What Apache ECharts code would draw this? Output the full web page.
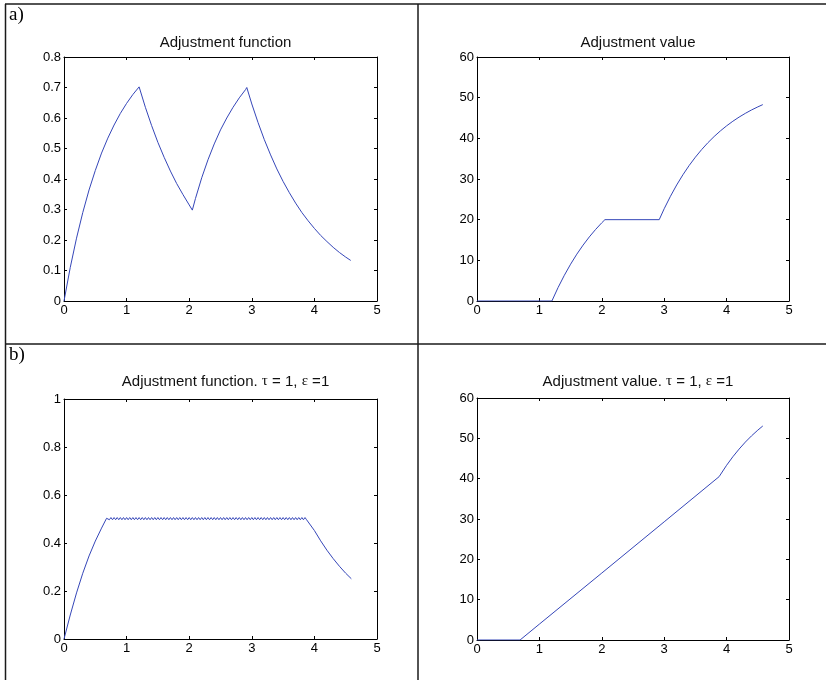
<!DOCTYPE html>
<html>
<head>
<meta charset="utf-8">
<title>Adjustment function and value</title>
<script src="https://cdn.jsdelivr.net/npm/echarts@6/dist/echarts.min.js"></script>
<style>
  html, body { margin: 0; padding: 0; background: #fff; }
  #chart { width: 826px; height: 680px; }
</style>
</head>
<body>
<div id="chart"></div>
<script>
// ---- a) adjustment function (time, value) ----
var aFuncX = [0, 0.1, 0.2, 0.3, 0.4, 0.5, 0.6, 0.7, 0.8, 0.9, 1.0, 1.1, 1.2,
  1.3, 1.4, 1.5, 1.6, 1.7, 1.8, 1.9, 2.0, 2.05,
  2.1, 2.2, 2.3, 2.4, 2.5, 2.6, 2.7, 2.8, 2.9, 2.92,
  3.0, 3.1, 3.2, 3.3, 3.4, 3.5, 3.6, 3.7, 3.8, 3.9, 4.0, 4.1, 4.2, 4.3, 4.4, 4.5, 4.58];
var aFuncY = [0, 0.110, 0.206, 0.290, 0.364, 0.428, 0.485, 0.534, 0.577, 0.615, 0.648, 0.677, 0.702,
  0.635, 0.575, 0.520, 0.471, 0.426, 0.385, 0.349, 0.315, 0.298,
  0.336, 0.404, 0.463, 0.515, 0.561, 0.600, 0.635, 0.666, 0.693, 0.700,
  0.646, 0.585, 0.529, 0.479, 0.433, 0.392, 0.355, 0.321, 0.290, 0.263, 0.238, 0.215, 0.195, 0.176, 0.159, 0.144, 0.133];

// ---- a) adjustment value ----
var aValX = [0, 1.2, 1.3, 1.4, 1.5, 1.6, 1.7, 1.8, 1.9, 2.0, 2.05, 2.92,
  3.0, 3.1, 3.2, 3.3, 3.4, 3.5, 3.6, 3.7, 3.8, 3.9, 4.0, 4.1, 4.2, 4.3, 4.4, 4.5, 4.58];
var aValY = [0, 0, 3.33, 6.33, 9.05, 11.52, 13.74, 15.76, 17.58, 19.24, 20.0, 20.0,
  22.69, 25.75, 28.53, 31.04, 33.32, 35.37, 37.23, 38.92, 40.44, 41.82, 43.07, 44.20, 45.22, 46.14, 46.98, 47.73, 48.29];

// ---- b) adjustment function, tau = 1, eps = 1 ----
var bRiseX = [0, 0.1, 0.2, 0.3, 0.4, 0.5, 0.6, 0.68];
var bRiseY = [0, 0.100, 0.192, 0.274, 0.346, 0.408, 0.462, 0.503];
// saturated stretch, sampled every 0.025 s from t = 0.70 to t = 3.90
var bHoldStart = 0.70;
var bHoldStep = 0.025;
var bHoldY = [
  0.503, 0.497, 0.506, 0.497, 0.506, 0.497, 0.506, 0.497, 0.506, 0.497, 0.506, 0.497, 0.506, 0.497, 0.506, 0.497,
  0.506, 0.497, 0.506, 0.497, 0.506, 0.497, 0.506, 0.497, 0.506, 0.497, 0.506, 0.497, 0.506, 0.497, 0.506, 0.497,
  0.506, 0.497, 0.506, 0.497, 0.506, 0.497, 0.506, 0.497, 0.506, 0.497, 0.506, 0.497, 0.506, 0.497, 0.506, 0.497,
  0.506, 0.497, 0.506, 0.497, 0.506, 0.497, 0.506, 0.497, 0.506, 0.497, 0.506, 0.497, 0.506, 0.497, 0.506, 0.497,
  0.506, 0.497, 0.506, 0.497, 0.506, 0.497, 0.506, 0.497, 0.506, 0.497, 0.506, 0.497, 0.506, 0.497, 0.506, 0.497,
  0.506, 0.497, 0.506, 0.497, 0.506, 0.497, 0.506, 0.497, 0.506, 0.497, 0.506, 0.497, 0.506, 0.497, 0.506, 0.497,
  0.506, 0.497, 0.506, 0.497, 0.506, 0.497, 0.506, 0.497, 0.506, 0.497, 0.506, 0.497, 0.506, 0.497, 0.506, 0.497,
  0.506, 0.497, 0.506, 0.497, 0.506, 0.497, 0.506, 0.497, 0.506, 0.497, 0.506, 0.497, 0.506, 0.497, 0.506, 0.497,
  0.500];
var bFallX = [4.0, 4.1, 4.2, 4.3, 4.4, 4.5, 4.59];
var bFallY = [0.452, 0.409, 0.370, 0.335, 0.303, 0.274, 0.251];

// ---- b) adjustment value, tau = 1, eps = 1 ----
var bValX = [0, 0.69, 1.0, 2.0, 3.0, 3.88, 3.9, 4.0, 4.1, 4.2, 4.3, 4.4, 4.5, 4.58];
var bValY = [0, 0, 3.94, 16.6, 29.3, 40.5, 40.99, 43.32, 45.43, 47.33, 49.06, 50.62, 52.03, 53.06];

// axis ranges and titles
var xTicks = { min: 0, max: 5, interval: 1 };
var yRanges = [
  { min: 0, max: 0.8, interval: 0.1 },
  { min: 0, max: 60, interval: 10 },
  { min: 0, max: 1, interval: 0.2 },
  { min: 0, max: 60, interval: 10 }
];
var panelTitles = [
  'Adjustment function',
  'Adjustment value',
  'Adjustment function. {g|\u03c4} = 1, {g|\u03b5} =1',
  'Adjustment value. {g|\u03c4} = 1, {g|\u03b5} =1'
];
var panelLabels = ['a)', 'b)'];

function pairs(xs, ys) {
  var out = [];
  for (var i = 0; i < xs.length; i++) out.push([xs[i], ys[i]]);
  return out;
}

var bFuncData = pairs(bRiseX, bRiseY);
for (var k = 0; k < bHoldY.length; k++) {
  bFuncData.push([+(bHoldStart + k * bHoldStep).toFixed(3), bHoldY[k]]);
}
bFuncData = bFuncData.concat(pairs(bFallX, bFallY));

var seriesData = [
  pairs(aFuncX, aFuncY),
  pairs(aValX, aValY),
  bFuncData,
  pairs(bValX, bValY)
];

var FONT = 'Arial, "Liberation Sans", Helvetica, sans-serif';
var SERIF = '"Times New Roman", "Liberation Serif", "DejaVu Serif", serif';
var LINE = '#3546b8';

var grids = [
  { left: 64, top: 57, width: 313, height: 244 },
  { left: 477, top: 57, width: 312, height: 244 },
  { left: 64, top: 399, width: 313, height: 240 },
  { left: 477, top: 398, width: 312, height: 242 }
];
var titleTops = [30, 30, 369, 369];

var xAxes = [], yAxes = [], series = [], titles = [];
grids.forEach(function (g, i) {
  g.show = false;
  g.containLabel = false;
  var tick = { show: true, inside: true, length: 3, lineStyle: { color: '#000', width: 1 } };
  var line = { show: true, onZero: false, lineStyle: { color: '#000', width: 1 } };
  xAxes.push({
    gridIndex: i, type: 'value', position: 'bottom',
    min: xTicks.min, max: xTicks.max, interval: xTicks.interval,
    axisLine: line, axisTick: tick, splitLine: { show: false },
    axisLabel: { color: '#000', fontSize: 13, fontFamily: FONT, margin: 3 }
  });
  xAxes.push({
    gridIndex: i, type: 'value', position: 'top',
    min: xTicks.min, max: xTicks.max, interval: xTicks.interval,
    axisLine: line, axisTick: tick, splitLine: { show: false },
    axisLabel: { show: false }
  });
  yAxes.push({
    gridIndex: i, type: 'value', position: 'left',
    min: yRanges[i].min, max: yRanges[i].max, interval: yRanges[i].interval,
    axisLine: line, axisTick: tick, splitLine: { show: false },
    axisLabel: { color: '#000', fontSize: 13, fontFamily: FONT, margin: 3 }
  });
  yAxes.push({
    gridIndex: i, type: 'value', position: 'right',
    min: yRanges[i].min, max: yRanges[i].max, interval: yRanges[i].interval,
    axisLine: line, axisTick: tick, splitLine: { show: false },
    axisLabel: { show: false }
  });
  series.push({
    type: 'line',
    xAxisIndex: 2 * i, yAxisIndex: 2 * i,
    data: seriesData[i],
    showSymbol: false,
    animation: false,
    lineStyle: { color: LINE, width: 1 },
    silent: true
  });
  titles.push({
    text: panelTitles[i],
    left: g.left + g.width / 2,
    top: titleTops[i],
    textAlign: 'center',
    textStyle: {
      color: '#111', fontSize: 15, fontWeight: 'normal', fontFamily: FONT,
      rich: { g: { fontSize: 15, fontFamily: SERIF, color: '#111' } }
    }
  });
});

// table rules separating the panels
var rule = { stroke: '#1a1a1a', lineWidth: 1.5 };
var graphics = [
  { type: 'line', shape: { x1: 5, y1: 4, x2: 826, y2: 4 }, style: rule },
  { type: 'line', shape: { x1: 5, y1: 344, x2: 826, y2: 344 }, style: rule },
  { type: 'line', shape: { x1: 5.5, y1: 4, x2: 5.5, y2: 680 }, style: rule },
  { type: 'line', shape: { x1: 418, y1: 4, x2: 418, y2: 680 }, style: rule },
  { type: 'text', left: 9, top: 6, style: { text: panelLabels[0], font: '19px ' + SERIF, fill: '#000' } },
  { type: 'text', left: 9, top: 346, style: { text: panelLabels[1], font: '19px ' + SERIF, fill: '#000' } }
];

var chart = echarts.init(document.getElementById('chart'), null, { renderer: 'canvas' });
chart.setOption({
  backgroundColor: '#fff',
  animation: false,
  title: titles,
  grid: grids,
  xAxis: xAxes,
  yAxis: yAxes,
  series: series,
  graphic: graphics
});
</script>
</body>
</html>
